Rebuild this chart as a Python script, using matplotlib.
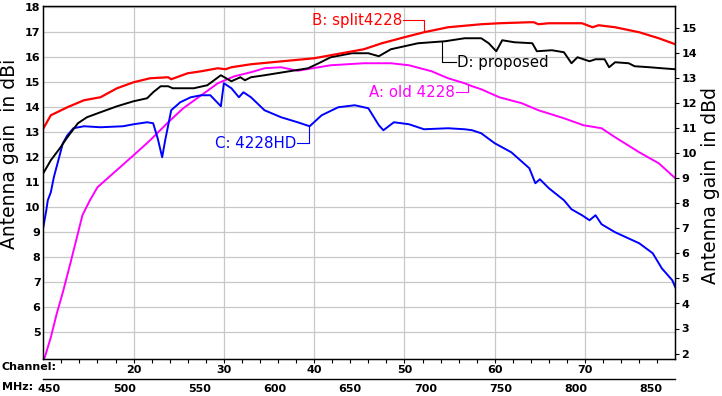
import matplotlib
matplotlib.use('Agg')
import matplotlib.pyplot as plt
import numpy as np

plt.rcParams['font.family'] = ['DejaVu Sans']

# UHF channel -> MHz (lower channel edge, 6 MHz raster)
def ch2mhz(ch):
    return 386 + 6 * np.asarray(ch)

# A: old 4228
a_mhz = [446, 447, 451, 455, 459, 464, 469, 472, 477, 482, 491, 506, 517, 529, 539,
         551, 562, 573, 584, 593, 604, 615, 637, 659, 677, 689, 704, 715, 726, 731,
         737, 749, 764, 775, 792, 805, 817, 826, 842, 855, 866]
a_gain = [3.9, 4.0, 4.8, 5.76, 6.6, 7.76, 8.96, 9.68, 10.28, 10.8, 11.28, 12.08, 12.68, 13.4, 13.96,
          14.48, 14.96, 15.24, 15.4, 15.56, 15.6, 15.46, 15.68, 15.76, 15.76, 15.68, 15.44, 15.16, 14.96, 14.84,
          14.72, 14.4, 14.16, 13.88, 13.56, 13.28, 13.16, 12.8, 12.2, 11.76, 11.16]

# B: split4228
b_mhz = [446, 451, 462, 473, 484, 495, 506, 517, 529, 531, 542, 551, 562, 567, 571,
         584, 626, 659, 671, 686, 699, 715, 737, 749, 769, 772, 775, 782, 804, 811,
         815, 826, 842, 855, 866]
b_gain = [13.15, 13.68, 14.0, 14.28, 14.4, 14.76, 15.0, 15.16, 15.2, 15.12, 15.36, 15.44, 15.56, 15.52, 15.6,
          15.72, 15.96, 16.32, 16.56, 16.8, 17.0, 17.2, 17.32, 17.36, 17.4, 17.4, 17.32, 17.36, 17.36, 17.2,
          17.28, 17.2, 17.0, 16.76, 16.52]

# C: 4228HD
c_mhz = [446, 448, 449, 451, 453, 456, 459, 462, 466, 473, 484, 499, 506, 515, 519,
         522, 525, 527, 531, 537, 544, 551, 557, 564, 566, 571, 576, 579, 584, 593,
         604, 615, 623, 631, 642, 653, 662, 669, 672, 679, 689, 699, 715, 726, 731,
         737, 746, 757, 769, 773, 776, 782, 792, 797, 804, 809, 813, 817, 826, 842,
         851, 857, 864, 866]
c_gain = [9.2, 9.88, 10.28, 10.6, 11.2, 11.88, 12.56, 12.88, 13.16, 13.24, 13.2, 13.24, 13.32, 13.4, 13.36,
          12.76, 12.0, 12.68, 13.88, 14.2, 14.4, 14.48, 14.48, 14.04, 14.96, 14.76, 14.4, 14.6, 14.4, 13.88,
          13.6, 13.4, 13.24, 13.68, 14.0, 14.08, 13.96, 13.28, 13.08, 13.4, 13.32, 13.12, 13.16, 13.12, 13.08,
          12.96, 12.56, 12.2, 11.56, 10.96, 11.12, 10.76, 10.28, 9.92, 9.68, 9.48, 9.68, 9.32, 9.0, 8.56,
          8.16, 7.56, 7.08, 6.8]

# D: proposed
d_mhz = [446, 451, 457, 462, 469, 475, 484, 495, 506, 515, 519, 524, 529, 532, 546,
         555, 564, 571, 577, 580, 584, 593, 622, 629, 637, 651, 662, 669, 677, 686,
         695, 713, 726, 737, 742, 747, 751, 759, 771, 774, 784, 792, 797, 801, 809,
         813, 819, 822, 826, 835, 839, 849, 857, 866]
d_gain = [11.36, 11.88, 12.36, 12.8, 13.36, 13.6, 13.8, 14.04, 14.24, 14.36, 14.6, 14.84, 14.84, 14.76, 14.76,
          14.88, 15.28, 15.04, 15.2, 15.08, 15.2, 15.28, 15.56, 15.76, 16.0, 16.16, 16.16, 16.04, 16.32, 16.44,
          16.56, 16.64, 16.76, 16.76, 16.56, 16.24, 16.68, 16.6, 16.56, 16.24, 16.28, 16.2, 15.76, 16.0, 15.84,
          15.92, 15.92, 15.6, 15.8, 15.76, 15.64, 15.6, 15.56, 15.52]

ch_major = np.arange(20, 71, 10)
ch_minor = np.arange(12, 80, 2)
mhz_ticks = np.arange(450, 851, 50)
dbi_ticks = np.arange(5, 19)
dbd_ticks = np.arange(2, 16)
DBD = 2.15

W, H = 722, 396
fig = plt.figure(figsize=(W / 100, H / 100), dpi=100)
ax = fig.add_axes([43.3 / W, 1 - 358.5 / H, 632 / W, 352.5 / H])

ax.plot(a_mhz, a_gain, color='#ff00ff', lw=1.4)
ax.plot(c_mhz, c_gain, color='#0000ff', lw=1.4)
ax.plot(d_mhz, d_gain, color='black', lw=1.4)
ax.plot(b_mhz, b_gain, color='#ff0000', lw=1.6)

ylo, yhi = 3.95, 18.05
ax.set_xlim(446, 866)
ax.set_ylim(ylo, yhi)

ax.set_xticks(ch2mhz(ch_major))
ax.set_xticklabels([str(c) for c in ch_major])
ax.set_xticks(ch2mhz(ch_minor), minor=True)
ax.tick_params(axis='x', which='both', direction='out', length=3, width=0.8, pad=1.5, labelsize=8)
ax.set_yticks(dbi_ticks)
ax.tick_params(axis='y', length=0, pad=2, labelsize=8)
for t in ax.get_xticklabels() + ax.get_yticklabels():
    t.set_fontweight('bold')
ax.grid(True, which='major', color='#c8c8c8', lw=0.9)
for s in ax.spines.values():
    s.set_linewidth(1.0)

axr = ax.twinx()
axr.set_ylim(ylo - DBD, yhi - DBD)
axr.set_yticks(dbd_ticks)
axr.tick_params(axis='y', direction='out', length=3, width=0.8, pad=1.5, labelsize=8)
for t in axr.get_yticklabels():
    t.set_fontweight('bold')

sec = ax.secondary_xaxis(-20 / 352.5)
sec.set_xticks(mhz_ticks)
sec.tick_params(length=0, pad=4, labelsize=8)
for t in sec.get_xticklabels():
    t.set_fontweight('bold')
sec.spines['bottom'].set_linewidth(1.0)

fig.text(2 / W, 1 - 367 / H, 'Channel:', ha='left', va='center', fontsize=8, fontweight='bold')
fig.text(2 / W, 1 - 387 / H, 'MHz:', ha='left', va='center', fontsize=8, fontweight='bold')
fig.text(10 / W, 1 - 154 / H, 'Antenna gain  in dBi', rotation=90, ha='center', va='center', fontsize=13.5)
fig.text(710 / W, 1 - 186 / H, 'Antenna gain  in dBd', rotation=90, ha='center', va='center', fontsize=13.5)


def tag(text, color, xs, ys, tx, ty, elbow, ha):
    yc = np.interp(elbow, xs, ys)
    start = tx + 0.7 if ha == 'right' else tx - 0.7
    ax.plot([start, elbow, elbow], [ty, ty, yc], color=color, lw=0.8)
    ax.text(tx, ty, text, ha=ha, va='center', color=color, fontsize=10.8)


tag('B: split4228', '#ff0000', b_mhz, b_gain, 684.5, 17.49, 699.3, 'right')
tag('D: proposed', 'black', d_mhz, d_gain, 720.7, 15.8, 710.7, 'left')
tag('A: old 4228', '#ff00ff', a_mhz, a_gain, 719.3, 14.6, 728, 'right')
tag('C: 4228HD', '#0000ff', c_mhz, c_gain, 614, 12.57, 622.7, 'right')

fig.savefig('out.png', dpi=100)
